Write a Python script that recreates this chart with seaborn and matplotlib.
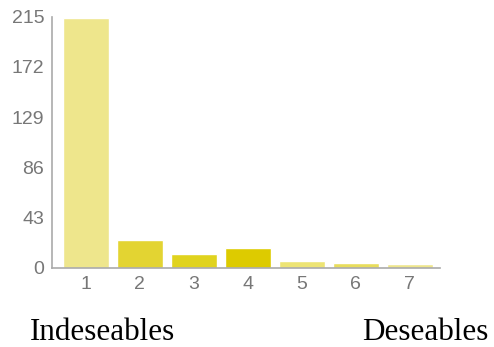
import pandas as pd
import matplotlib
matplotlib.use("Agg")
import matplotlib.pyplot as plt
import seaborn as sns

# rating scale 1..7 and number of answers
ratings = ["1", "2", "3", "4", "5", "6", "7"]
counts = [214, 24, 12, 17, 6, 4, 3]
bar_colors = ["#EEE68C", "#E3D432", "#E0D31E", "#DDCB00", "#EDE474", "#E8DD5C", "#EEE68C"]
yticks = [0, 43, 86, 129, 172, 215]
left_label = "Indeseables"
right_label = "Deseables"

df = pd.DataFrame({"rating": ratings, "count": counts})

sns.set_style("white")
fig = plt.figure(figsize=(4.94, 3.47), dpi=100)
ax = fig.add_axes([0.105, 0.228, 0.786, 0.724])

sns.barplot(data=df, x="rating", y="count", hue="rating",
            palette=dict(zip(ratings, bar_colors)), legend=False,
            width=0.85, saturation=1, ax=ax)

ax.set_ylim(0, 215)
ax.set_xlim(-0.63, 6.56)
ax.set_yticks(yticks)
ax.set_xlabel("")
ax.set_ylabel("")

for side in ["top", "right"]:
    ax.spines[side].set_visible(False)
for side in ["left", "bottom"]:
    ax.spines[side].set_color("#aaaaaa")
    ax.spines[side].set_linewidth(1.2)

ax.tick_params(axis="both", which="both", direction="out", length=4.5, width=1,
               color="#aaaaaa", labelcolor="#777777", labelsize=14, pad=1)
for lab in ax.get_xticklabels() + ax.get_yticklabels():
    lab.set_family("Liberation Sans")

fig.text(30 / 494, 1 - 340 / 347, left_label, family="Liberation Serif",
         fontsize=22.4, color="black", ha="left", va="baseline")
fig.text(488 / 494, 1 - 340 / 347, right_label, family="Liberation Serif",
         fontsize=22.4, color="black", ha="right", va="baseline")

plt.savefig("out.png", dpi=100)
